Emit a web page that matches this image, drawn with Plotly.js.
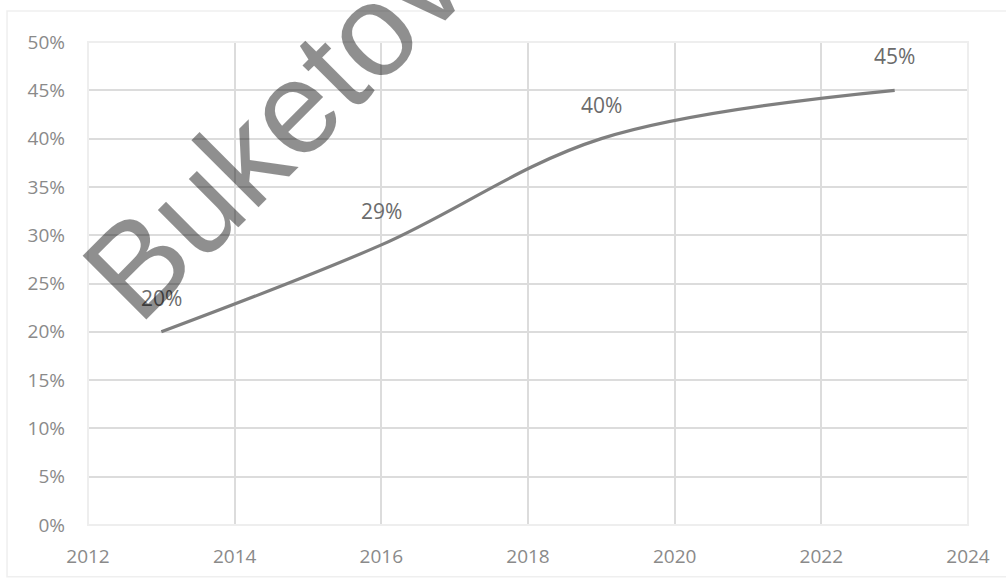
<!DOCTYPE html>
<html>
<head>
<meta charset="utf-8">
<script src="https://cdn.plot.ly/plotly-3.0.1.min.js"></script>
<style>html,body{margin:0;padding:0;background:#fff;}#chart{width:1006px;height:580px;}</style>
</head>
<body>
<div id="chart"></div>
<script>
// ---- data ----
const years = [2013, 2016, 2019, 2023];
const values = [0.20, 0.29, 0.40, 0.45];
const valueLabels = ['20%', '29%', '40%', '45%'];
const xTickVals = [2012, 2014, 2016, 2018, 2020, 2022, 2024];
const xTickText = ['2012', '2014', '2016', '2018', '2020', '2022', '2024'];
const yTickVals = [0, 0.05, 0.10, 0.15, 0.20, 0.25, 0.30, 0.35, 0.40, 0.45, 0.50];
const yTickText = ['0%', '5%', '10%', '15%', '20%', '25%', '30%', '35%', '40%', '45%', '50%'];
const watermarkText = 'Buketov';

const tickFont = {family: 'Open Sans, sans-serif', size: 19, color: '#8a8a8a'};
const labelFont = {family: 'Open Sans, sans-serif', size: 21, color: '#6b6b6b'};

const trace = {
  x: years,
  y: values,
  type: 'scatter',
  mode: 'lines',
  line: {color: '#7f7f7f', width: 3.2, shape: 'spline', smoothing: 1},
  hoverinfo: 'skip',
  showlegend: false
};

const annotations = years.map((yr, i) => ({
  x: yr, y: values[i], xref: 'x', yref: 'y',
  text: valueLabels[i], showarrow: false,
  xanchor: 'center', yanchor: 'middle', yshift: 34,
  font: labelFont
}));

annotations.push({
  xref: 'paper', yref: 'paper', x: 0.211, y: 0.824,
  text: watermarkText, showarrow: false, textangle: -45,
  xanchor: 'center', yanchor: 'middle',
  font: {family: 'Liberation Sans, Arial, sans-serif', size: 131, color: 'rgba(0,0,0,0.44)'}
});

const layout = {
  width: 1006, height: 580, autosize: false,
  margin: {l: 88, r: 38, t: 42, b: 55, pad: 0},
  paper_bgcolor: '#ffffff', plot_bgcolor: '#ffffff',
  xaxis: {
    range: [2012, 2024], tickmode: 'array', tickvals: xTickVals, ticktext: xTickText,
    showgrid: true, gridcolor: '#dcdcdc', gridwidth: 2,
    zeroline: false, showline: false, ticks: '', ticklabelstandoff: 18,
    tickfont: tickFont, fixedrange: true
  },
  yaxis: {
    range: [0, 0.5], tickmode: 'array', tickvals: yTickVals, ticktext: yTickText,
    showgrid: true, gridcolor: '#dcdcdc', gridwidth: 2,
    zeroline: false, showline: false, ticks: '', ticklabelstandoff: 22,
    tickfont: tickFont, fixedrange: true
  },
  shapes: [
    {type: 'rect', xref: 'paper', yref: 'paper', x0: 0, x1: 1, y0: 0, y1: 1,
     line: {color: '#eeeeee', width: 2}, layer: 'above'},
    {type: 'rect', xref: 'paper', yref: 'paper', x0: -0.092, x1: 1.05, y0: -0.107, y1: 1.064,
     line: {color: '#efefef', width: 1.5}, layer: 'below'}
  ],
  annotations: annotations
};

Plotly.newPlot('chart', [trace], layout, {displayModeBar: false});
</script>
</body>
</html>
